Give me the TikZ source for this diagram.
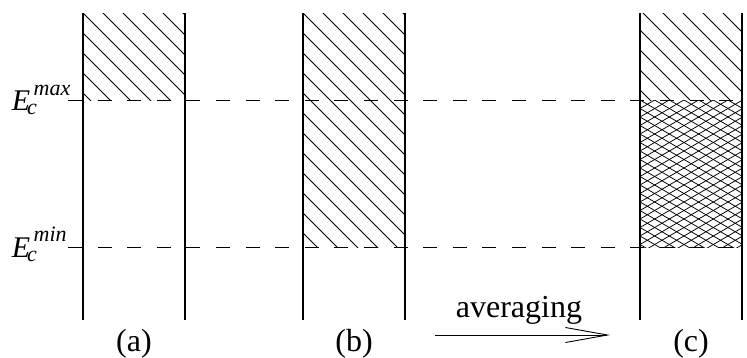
\documentclass[tikz,border=0pt]{standalone}
\usepackage{fontspec}
\setmainfont{Liberation Serif}
\usetikzlibrary{arrows.meta}
\begin{document}
\begin{tikzpicture}[x=1pt,y=-1pt,
  col/.style={line width=1.8pt},
  hatch/.style={line width=0.8pt},
  xhatch/.style={line width=0.75pt},
  level/.style={line width=0.9pt, dash pattern=on 14pt off 15.6pt},
  lab/.style={font=\fontsize{32}{38}\selectfont, inner sep=0pt, anchor=base},
  elab/.style={font=\fontsize{30}{36}\selectfont, inner sep=0pt, anchor=base west},
]
\useasboundingbox (0,0) rectangle (747,357);
% coordinates
\coordinate (aL) at (82.7,13);  \coordinate (aR) at (185,13);
\coordinate (bL) at (303,13);   \coordinate (bR) at (405,13);
\coordinate (cL) at (640,13);   \coordinate (cR) at (742,13);
% hatching (a)
\begin{scope}
  \clip (82.7,13) rectangle (185,100.7);
  \foreach \k in {-3,...,38} \draw[hatch] ({20*\k},-10) -- ++(420,420);
\end{scope}
% hatching (b)
\begin{scope}
  \clip (303,13) rectangle (405,247.7);
  \foreach \k in {-3,...,38} \draw[hatch] ({20*\k},-10) -- ++(420,420);
\end{scope}
% hatching (c) top
\begin{scope}
  \clip (640,13) rectangle (742,100.7);
  \foreach \k in {-3,...,38} \draw[hatch] ({20*\k},-10) -- ++(420,420);
\end{scope}
% cross hatching (c)
\begin{scope}
  \clip (640,100.7) rectangle (742,247.7);
  \foreach \j in {-8,...,19} \draw[xhatch] (640,{100+8.5*\j}) -- ++(102,59.16);
  \foreach \j in {0,...,26} \draw[xhatch] (640,{100+8.5*\j}) -- ++(102,-59.16);
\end{scope}
% level lines
\coordinate (maxS) at (68,100.7); \coordinate (maxE) at (747,100.7);
\coordinate (minS) at (68,247.7); \coordinate (minE) at (747,247.7);
\draw[level] (maxS) -- (maxE);
\draw[level] (minS) -- (minE);
% columns
\foreach \c in {aL,aR,bL,bR,cL,cR} \draw[col] (\c) -- ++(0,307);
% labels
\node[elab] (emax) at (11.7,110) {\itshape E\kern-3pt\rlap{\raisebox{-4pt}{\fontsize{22}{22}\selectfont c}}\kern6.5pt\raisebox{15pt}{\fontsize{22}{22}\selectfont max}};
\node[elab] (emin) at (11.7,257) {\itshape E\kern-3pt\rlap{\raisebox{-4pt}{\fontsize{22}{22}\selectfont c}}\kern6.5pt\raisebox{16pt}{\fontsize{22}{22}\selectfont min}};
\node[lab] (la) at (134,351) {(a)};
\node[lab] (lb) at (354,351) {(b)};
\node[lab] (lc) at (691,351) {(c)};
\node[lab] (avg) at (519,317) {averaging};
\coordinate (arrL) at (435,335);
\coordinate (arrR) at (610,335);
\draw[line width=0.9pt, -{Straight Barb[length=42pt,width=15pt]}] (arrL) -- (arrR);
\end{tikzpicture}
\end{document}
